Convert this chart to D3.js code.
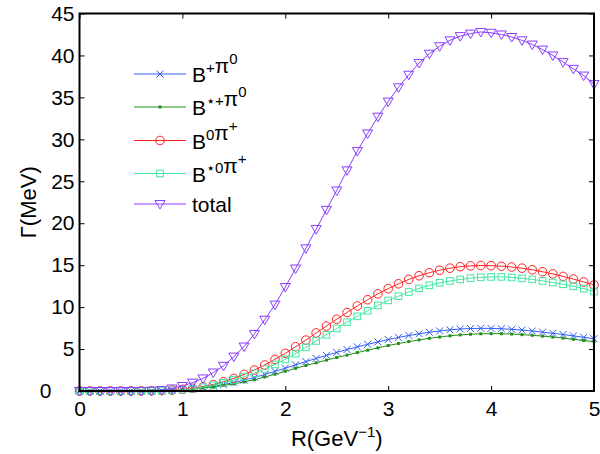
<!DOCTYPE html>
<html>
<head>
<meta charset="utf-8">
<script src="https://cdn.jsdelivr.net/npm/d3@7"></script>
<style>
body { margin: 0; background: #fff; }
svg { display: block; font-family: "Liberation Sans", Arial, Helvetica, sans-serif; }
.axis text { font-size: 21px; fill: #000; }
.axis line { stroke: #000; stroke-width: 1; }
.legend text { font-size: 21px; }
</style>
</head>
<body>
<svg width="600" height="454"></svg>
<script>
const width = 600
const height = 454
const margin = { top: 13.5, bottom: 63, left: 79.5, right: 6 }

// R in GeV^-1, one point every 0.1
const R = [0, 0.1, 0.2, 0.3, 0.4, 0.5, 0.6, 0.7, 0.8, 0.9,
  1.0, 1.1, 1.2, 1.3, 1.4, 1.5, 1.6, 1.7, 1.8, 1.9,
  2.0, 2.1, 2.2, 2.3, 2.4, 2.5, 2.6, 2.7, 2.8, 2.9,
  3.0, 3.1, 3.2, 3.3, 3.4, 3.5, 3.6, 3.7, 3.8, 3.9,
  4.0, 4.1, 4.2, 4.3, 4.4, 4.5, 4.6, 4.7, 4.8, 4.9, 5.0]

const bPlusPi0 = [0, 0, 0, 0, 0, 0, 0, 0.01, 0.04, 0.09,
  0.17, 0.27, 0.4, 0.57, 0.77, 1.01, 1.29, 1.61, 1.97, 2.34,
  2.72, 3.12, 3.5, 3.88, 4.25, 4.6, 4.94, 5.26, 5.56, 5.85,
  6.13, 6.39, 6.62, 6.82, 7.0, 7.16, 7.29, 7.39, 7.45, 7.47,
  7.46, 7.42, 7.35, 7.26, 7.15, 7.02, 6.88, 6.73, 6.57, 6.4, 6.23]

const bStarPlusPi0 = [0, 0, 0, 0, 0, 0, 0, 0.01, 0.04, 0.08,
  0.15, 0.24, 0.36, 0.5, 0.66, 0.85, 1.08, 1.35, 1.67, 2.0,
  2.35, 2.7, 3.04, 3.36, 3.68, 3.99, 4.28, 4.58, 4.86, 5.14,
  5.42, 5.66, 5.89, 6.09, 6.28, 6.44, 6.58, 6.69, 6.77, 6.82,
  6.84, 6.83, 6.79, 6.72, 6.64, 6.54, 6.43, 6.3, 6.16, 6.02, 5.87]

const b0PiPlus = [0, 0, 0, 0, 0, 0, 0, 0.02, 0.05, 0.1,
  0.2, 0.32, 0.5, 0.77, 1.1, 1.5, 1.98, 2.5, 3.1, 3.77,
  4.49, 5.27, 6.07, 6.92, 7.74, 8.56, 9.36, 10.14, 10.88, 11.58,
  12.2, 12.78, 13.3, 13.74, 14.1, 14.4, 14.64, 14.82, 14.92, 14.96,
  14.94, 14.88, 14.78, 14.64, 14.45, 14.22, 13.96, 13.66, 13.34, 13.0, 12.65]

const bStar0PiPlus = [0, 0, 0, 0, 0, 0, 0, 0.01, 0.04, 0.08,
  0.15, 0.27, 0.44, 0.68, 0.99, 1.32, 1.7, 2.12, 2.62, 3.17,
  3.77, 4.45, 5.2, 5.97, 6.7, 7.46, 8.2, 8.9, 9.56, 10.2,
  10.8, 11.3, 11.8, 12.24, 12.6, 12.9, 13.12, 13.3, 13.45, 13.55,
  13.6, 13.6, 13.53, 13.43, 13.3, 13.13, 12.93, 12.72, 12.48, 12.2, 11.85]

const total = [0, 0, 0, 0, 0, 0.01, 0.02, 0.05, 0.12, 0.3,
  0.6, 1.0, 1.5, 2.2, 3.0, 4.1, 5.3, 6.8, 8.5, 10.3,
  12.4, 14.6, 17.0, 19.3, 21.6, 23.9, 26.3, 28.6, 30.7, 32.7,
  34.5, 36.2, 37.7, 39.1, 40.2, 41.1, 41.8, 42.3, 42.6, 42.8,
  42.7, 42.5, 42.2, 41.8, 41.3, 40.7, 40.0, 39.2, 38.4, 37.6, 36.6]

const xTicks = [0, 1, 2, 3, 4, 5]
const yTicks = [0, 5, 10, 15, 20, 25, 30, 35, 40, 45]

// legend labels: [base, superscript] pairs
const seriesNames = [
  [["B", "+"], ["\u03C0", "0"]],
  [["B", "\u22C6+"], ["\u03C0", "0"]],
  [["B", "0"], ["\u03C0", "+"]],
  [["B", "\u22C60"], ["\u03C0", "+"]],
  [["total", ""]]
]

const series = [
  { values: bPlusPi0, color: "#2f5cf5", marker: "x" },
  { values: bStarPlusPi0, color: "#23901a", marker: "dot" },
  { values: b0PiPlus, color: "#ff2020", marker: "circle" },
  { values: bStar0PiPlus, color: "#44e6a2", marker: "square" },
  { values: total, color: "#8a3cff", marker: "tri" }
]

const x = d3.scaleLinear().domain([0, 5]).range([margin.left, width - margin.right])
const y = d3.scaleLinear().domain([0, 45]).range([height - margin.bottom, margin.top])

const svg = d3.select("svg")

// axes with inward ticks
svg.append("g")
  .attr("class", "axis x")
  .attr("transform", "translate(0," + y(0) + ")")
  .call(d3.axisBottom(x).tickValues(xTicks).tickSizeInner(-5).tickSizeOuter(0).tickPadding(10).tickFormat(d3.format("d")))
svg.append("g")
  .attr("class", "axis x2")
  .attr("transform", "translate(0," + y(45) + ")")
  .call(d3.axisTop(x).tickValues(xTicks).tickSizeInner(-5).tickSizeOuter(0).tickFormat(""))
svg.append("g")
  .attr("class", "axis y")
  .attr("transform", "translate(" + x(0) + ",0)")
  .call(d3.axisLeft(y).tickValues(yTicks).tickSizeInner(-5).tickSizeOuter(0).tickPadding(5).tickFormat(d3.format("d")))
svg.append("g")
  .attr("class", "axis y2")
  .attr("transform", "translate(" + x(5) + ",0)")
  .call(d3.axisRight(y).tickValues(yTicks).tickSizeInner(-5).tickSizeOuter(0).tickFormat(""))

svg.selectAll(".axis .domain").remove()
svg.selectAll(".axis text").attr("font-family", null)
// the zero label on the y axis sits further out
svg.selectAll(".axis.y .tick text").filter(function (d) { return d === 0 }).attr("dx", -23)

const plot = svg.append("g").attr("class", "plot")

const line = d3.line()
  .x(function (d, i) { return x(R[i]) })
  .y(function (d) { return y(d) })

function drawMarker(sel, type, color) {
  if (type === "x") {
    sel.append("path").attr("d", "M-3.5,-3.5L3.5,3.5M-3.5,3.5L3.5,-3.5")
      .attr("stroke", color).attr("fill", "none").attr("stroke-width", 1)
  } else if (type === "dot") {
    sel.append("rect").attr("x", -1.5).attr("y", -1.5).attr("width", 3).attr("height", 3)
      .attr("fill", color)
  } else if (type === "circle") {
    sel.append("circle").attr("r", 4.3)
      .attr("stroke", color).attr("fill", "none").attr("stroke-width", 1)
  } else if (type === "square") {
    sel.append("rect").attr("x", -3.3).attr("y", -3.3).attr("width", 6.6).attr("height", 6.6)
      .attr("stroke", color).attr("fill", "none").attr("stroke-width", 1)
  } else if (type === "tri") {
    sel.append("path").attr("d", "M-5,-3.5L5,-3.5L0,5Z")
      .attr("stroke", color).attr("fill", "none").attr("stroke-width", 1)
  }
}

series.forEach(function (s) {
  const g = plot.append("g")
  g.append("path")
    .datum(s.values)
    .attr("d", line)
    .attr("fill", "none")
    .attr("stroke", s.color)
    .attr("stroke-width", 1)
  g.selectAll("g.m")
    .data(s.values)
    .enter()
    .append("g")
    .attr("class", "m")
    .attr("transform", function (d, i) { return "translate(" + x(R[i]) + "," + y(d) + ")" })
    .each(function () { drawMarker(d3.select(this), s.marker, s.color) })
})

// frame
svg.append("rect")
  .attr("x", x(0)).attr("y", y(45))
  .attr("width", x(5) - x(0)).attr("height", y(0) - y(45))
  .attr("fill", "none").attr("stroke", "#000").attr("stroke-width", 2)

// legend
const legendY = [74, 107, 140.5, 173.5, 204]
const legend = svg.append("g").attr("class", "legend")
series.forEach(function (s, i) {
  const g = legend.append("g").attr("transform", "translate(134," + legendY[i] + ")")
  g.append("line").attr("x1", 0).attr("x2", 52).attr("stroke", s.color).attr("stroke-width", 1)
  const mk = g.append("g").attr("transform", "translate(26,0)")
  drawMarker(mk, s.marker, s.color)
  const t = g.append("text").attr("x", 58).attr("y", 8)
  seriesNames[i].forEach(function (p) {
    t.append("tspan").text(p[0])
    if (p[1]) {
      t.append("tspan").attr("dy", -9).attr("font-size", 15).text(p[1])
      t.append("tspan").attr("dy", 9).text("")
    }
  })
})

// axis titles
const xt = svg.append("text")
  .attr("x", (x(0) + x(5)) / 2).attr("y", 446)
  .attr("text-anchor", "middle").attr("font-size", 22)
xt.append("tspan").text("R(GeV")
xt.append("tspan").attr("dy", -9).attr("font-size", 15).text("\u22121")
xt.append("tspan").attr("dy", 9).text(")")

svg.append("text")
  .attr("transform", "translate(36," + ((y(0) + y(45)) / 2) + ") rotate(-90)")
  .attr("text-anchor", "middle").attr("font-size", 22)
  .text("\u0393(MeV)")
</script>
</body>
</html>
